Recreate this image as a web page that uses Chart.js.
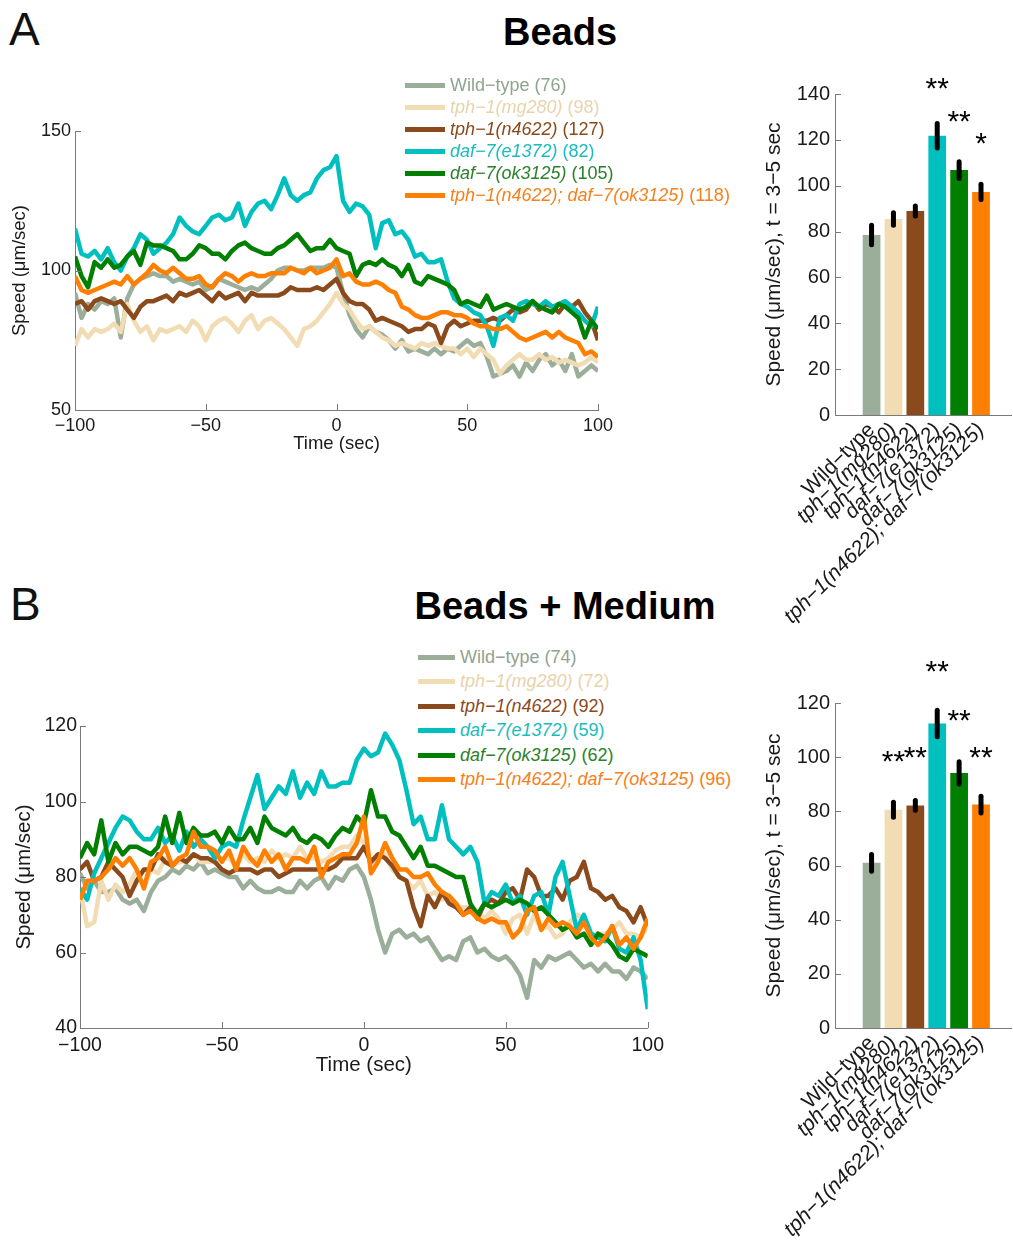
<!DOCTYPE html>
<html>
<head>
<meta charset="utf-8">
<script src="https://cdn.jsdelivr.net/npm/chart.js@4.4.0/dist/chart.umd.min.js"></script>
<style>
  body { margin: 0; background: #fff; width: 1013px; height: 1243px; position: relative; overflow: hidden;
         font-family: 'Liberation Sans', Arial, sans-serif; }
  canvas { position: absolute; }
  .panel { position: absolute; font-size: 46px; line-height: 1; color: #111; }
  .title { position: absolute; font-size: 38px; line-height: 1; font-weight: bold; color: #000;
           transform: translateX(-50%); white-space: nowrap; }
  .legend { position: absolute; font-size: 18px; white-space: nowrap; }
  .legend .row { display: flex; align-items: center; }
  .legend .sw { display: inline-block; height: 5px; margin-right: 5px; }
</style>
</head>
<body>
<div class="panel" style="left:9px;top:6px">A</div>
<div class="panel" style="left:10px;top:581px">B</div>
<div class="title" style="left:560px;top:13px">Beads</div>
<div class="title" style="left:565px;top:587px">Beads + Medium</div>

<canvas id="lineBeads" width="620" height="360" style="left:0;top:100px"></canvas>
<canvas id="lineMedium" width="670" height="390" style="left:0;top:700px"></canvas>
<canvas id="barBeads" width="258" height="560" style="left:755px;top:70px"></canvas>
<canvas id="barMedium" width="258" height="603" style="left:755px;top:640px"></canvas>

<div class="legend" id="legBeads" style="left:405px;top:74px"></div>
<div class="legend" id="legMedium" style="left:418px;top:645px;background:#fff;padding-right:4px"></div>

<script>
var FONT = "'Liberation Sans', Arial, sans-serif";
Chart.defaults.font.family = FONT;
Chart.defaults.color = '#1a1a1a';

// time axis, 2.5 s steps from -100 to 100
var times = [];
for (var t = -100; t <= 100; t += 2.5) times.push(t);

var strains = ['Wild\u2212type', 'tph\u22121(mg280)', 'tph\u22121(n4622)', 'daf\u22127(e1372)',
               'daf\u22127(ok3125)', 'tph\u22121(n4622); daf\u22127(ok3125)'];
var colors = ['#9aae9a', '#f2dcb4', '#8b4a1c', '#00bfbf', '#007f00', '#ff7f00'];
var textColors = ['#8fa38f', '#e9d3ab', '#8b4a1c', '#1bbcbc', '#2a812a', '#f5801c'];
var countsBeads = [76, 98, 127, 82, 105, 118];
var countsMedium = [74, 72, 92, 59, 62, 96];

// speed traces, beads only
var beadsWT = [92,83,88,86,89,88,90,76,90,95, 97,98,99,98,98,96,97,96,95,96,
  93,94,97,96,95,94,93,94,93,95, 97,100,101,101,100,100,101,101,101,102,
  101,92,84,79,76,80,78,77,75,72, 75,71,72,71,70,72,70,72,71,73,
  75,73,74,69,62,63,64,66,62,67, 64,68,70,66,68,64,70,62,64,66, 64];
var beadsMg280 = [73,79,76,79,78,79,81,78,88,82, 78,80,75,79,78,79,80,78,82,80,
  75,80,82,83,81,78,82,84,79,82, 83,81,79,76,73,79,80,82,85,88,
  92,88,86,82,79,80,78,76,75,73, 74,73,72,74,73,74,73,72,72,70,
  72,69,72,70,68,63,66,68,70,68, 68,70,68,69,67,68,67,66,67,69, 67];
var beadsN4622 = [88,89,86,89,90,89,88,89,86,83, 87,89,89,90,91,89,92,91,92,93,
  91,89,92,90,91,92,89,92,91,91, 91,91,92,94,93,93,93,94,93,95,
  97,92,89,88,88,86,82,83,82,81, 80,78,79,79,81,80,74,80,82,80,
  81,82,82,82,83,82,84,86,85,86, 89,86,88,87,85,88,87,89,85,82, 75];
var beadsE1372 = [115,106,105,107,104,108,103,100,105,108, 113,111,106,108,110,113,119,116,114,113,
  116,119,120,118,119,124,116,121,124,125, 122,127,133,127,125,127,128,133,136,137,
  141,125,121,124,123,120,108,117,118,113, 114,111,105,106,103,103,104,96,90,88,
  87,85,84,80,73,83,84,82,88,89, 88,87,89,87,88,89,87,85,82,80, 87];
var beadsOk3125 = [105,98,94,103,101,104,101,102,105,107, 102,110,109,109,108,107,104,104,106,109,
  108,106,106,104,107,109,110,108,107,106, 106,108,109,111,113,110,107,108,108,111,
  108,107,106,98,102,103,102,104,102,101, 98,102,96,95,98,97,96,95,93,88,
  89,88,87,91,86,87,88,87,86,87, 89,87,86,85,88,87,85,83,76,82, 79];
var beadsDouble = [98,93,92,93,94,95,96,95,98,95, 97,99,102,100,99,101,99,97,97,98,
  95,94,97,99,98,96,98,99,98,98, 99,99,99,101,100,99,101,99,100,101,
  104,98,99,96,95,95,96,95,93,92, 87,86,84,83,83,84,85,85,84,84,
  83,81,80,80,79,79,80,78,76,75, 76,77,78,76,78,76,75,74,70,71, 69];

// speed traces, beads + medium
var mediumWT = [81,77,79,76,76,77,74,73,74,71, 76,79,80,82,81,83,82,84,81,82,
  81,80,80,77,79,77,76,76,77,76, 76,79,77,79,80,77,80,79,82,83,
  80,74,66,60,65,66,64,65,63,64, 61,58,59,58,63,64,60,61,59,58,
  59,57,54,48,58,56,59,58,59,60, 58,56,57,55,57,55,55,53,56,55, 53];
var mediumMg280 = [77,67,68,79,74,78,76,78,82,77, 82,81,85,83,84,84,86,84,84,84,
  85,85,83,86,84,85,84,87,85,86, 85,88,85,85,84,85,87,88,88,91,
  89,83,85,86,82,80,79,77,79,75, 76,74,75,72,72,72,71,69,71,69,
  65,69,70,65,70,66,67,64,65,68, 70,69,65,65,65,66,68,65,65,64, 67];
var mediumN4622 = [82,84,79,80,84,82,80,75,79,82, 82,86,84,83,85,84,86,85,85,84,
  82,81,82,82,82,81,82,82,80,81, 82,82,82,82,82,82,83,85,85,85,
  88,84,86,85,83,80,79,72,67,75, 72,76,73,72,70,72,69,73,74,73,
  76,77,74,82,80,75,75,77,74,79, 80,84,77,76,74,75,72,71,68,72, 67];
var mediumE1372 = [77,74,81,85,89,93,96,95,92,90, 90,93,89,91,87,92,88,90,88,85,
  88,89,88,95,101,107,98,101,104,102, 108,101,105,102,108,104,104,105,105,111,
  114,112,113,118,115,111,103,94,96,90, 90,99,90,88,86,88,84,73,76,75,
  78,73,75,70,75,76,70,80,84,75, 66,70,65,64,63,67,61,60,64,58, 45];
var mediumOk3125 = [85,89,86,95,84,89,86,88,88,87, 86,88,96,89,97,89,93,91,91,92,
  89,93,90,90,93,89,96,93,92,91, 93,90,89,91,90,88,91,93,92,96,
  94,103,96,96,92,91,88,85,88,83, 83,82,81,80,80,73,70,73,72,73,
  74,73,74,73,71,72,70,68,66,67, 64,65,62,65,64,62,59,58,61,60, 59];
var mediumDouble = [74,79,79,80,82,85,83,85,82,77, 84,85,88,83,85,86,92,88,88,87,
  84,87,82,88,85,83,87,84,86,82, 85,85,84,88,80,84,85,86,86,89,
  96,81,84,89,85,82,82,80,80,81, 78,76,75,73,70,71,69,68,69,68,
  68,64,66,71,72,66,69,67,68,67, 65,68,64,62,64,67,62,64,61,64, 69];

// mean speed at t = 3-5 s with s.e.m.
var barBeads = [78.5, 85.5, 89, 121.8, 106.8, 97.3];
var errBeads = [4.3, 2.7, 2.2, 5.3, 3.7, 3.3];
var starsBeads = ['', '', '', '**', '**', '*'];
var starLevelBeads = [0, 0, 0, 141.7, 127.3, 117.7];

var barMedium = [61, 80.6, 82.2, 112.4, 94.2, 82.5];
var errMedium = [3.1, 2.8, 1.8, 4.9, 4.1, 3.1];
var starsMedium = ['', '**', '**', '**', '**', '**'];
var starLevelMedium = [0, 98, 99.5, 131, 113, 99.5];

function minus(v) { return String(v).replace('-', '\u2212'); }

// MATLAB style tick marks pointing into the plot
var inwardTicks = {
  id: 'inwardTicks',
  afterDatasetsDraw: function (chart, args, opts) {
    var ctx = chart.ctx, area = chart.chartArea;
    ctx.save();
    ctx.strokeStyle = '#7a7a7a';
    ctx.lineWidth = 1;
    opts.axes.forEach(function (id) {
      var s = chart.scales[id];
      s.ticks.forEach(function (tk) {
        var p = Math.round(s.getPixelForValue(tk.value)) + 0.5;
        ctx.beginPath();
        if (s.isHorizontal()) { ctx.moveTo(p, area.bottom); ctx.lineTo(p, area.bottom - opts.len); }
        else { ctx.moveTo(area.left, p); ctx.lineTo(area.left + opts.len, p); }
        ctx.stroke();
      });
    });
    ctx.restore();
  }
};

// error bars and significance stars
var barMarks = {
  id: 'barMarks',
  afterDatasetsDraw: function (chart, args, opts) {
    var ctx = chart.ctx, ys = chart.scales.y;
    var meta = chart.getDatasetMeta(0);
    ctx.save();
    ctx.strokeStyle = '#000';
    ctx.lineWidth = 5;
    ctx.lineCap = 'round';
    opts.values.forEach(function (v, i) {
      var x = meta.data[i].x;
      ctx.beginPath();
      ctx.moveTo(x, ys.getPixelForValue(v - opts.errs[i]));
      ctx.lineTo(x, ys.getPixelForValue(v + opts.errs[i]));
      ctx.stroke();
    });
    ctx.fillStyle = '#000';
    ctx.font = '30px ' + FONT;
    ctx.textAlign = 'center';
    ctx.textBaseline = 'middle';
    opts.stars.forEach(function (s, i) {
      if (s) ctx.fillText(s, meta.data[i].x, ys.getPixelForValue(opts.levels[i]));
    });
    ctx.restore();
  }
};

function lineChart(id, series, yMin, yMax, yStep, box) {
  var datasets = series.map(function (vals, i) {
    return {
      label: strains[i],
      data: times.map(function (tm, k) { return {x: tm, y: vals[k]}; }),
      borderColor: colors[i],
      borderWidth: 4.5,
      pointRadius: 0,
      tension: 0,
      borderJoinStyle: 'round',
      order: -i
    };
  });
  return new Chart(document.getElementById(id), {
    type: 'line',
    data: {datasets: datasets},
    options: {
      responsive: false,
      animation: false,
      layout: {padding: {left: 0, top: box.top, right: box.right, bottom: 0}},
      plugins: {legend: {display: false}, tooltip: {enabled: false},
                inwardTicks: {axes: ['x', 'y'], len: 6}},
      scales: {
        x: {
          type: 'linear', min: -100, max: 100,
          ticks: {stepSize: 50, font: {size: box.tick}, padding: box.xPad, callback: minus},
          grid: {display: false, drawTicks: false},
          border: {color: '#7a7a7a'},
          title: {display: true, text: 'Time (sec)', font: {size: box.label},
                  padding: {top: 0, bottom: box.xTitlePad}},
          afterFit: function (s) { s.height = box.xH; }
        },
        y: {
          min: yMin, max: yMax,
          ticks: {stepSize: yStep, font: {size: box.tick}, padding: box.yPad},
          grid: {display: false, drawTicks: false},
          border: {color: '#7a7a7a'},
          title: {display: true, text: 'Speed (\u03bcm/sec)', font: {size: box.label},
                  padding: {top: box.yTitlePad, bottom: 0}},
          afterFit: function (s) { s.width = box.yW; }
        }
      }
    },
    plugins: [inwardTicks]
  });
}

function barChart(id, values, errs, stars, levels, yMax, box) {
  return new Chart(document.getElementById(id), {
    type: 'bar',
    data: {datasets: [{
      data: values.map(function (v, i) { return {x: i + 1, y: v}; }),
      backgroundColor: colors,
      borderWidth: 0,
      barPercentage: 0.9,
      categoryPercentage: 0.9
    }]},
    options: {
      responsive: false,
      animation: false,
      layout: {padding: {left: 0, top: box.top, right: 2, bottom: 0}},
      plugins: {legend: {display: false}, tooltip: {enabled: false},
                inwardTicks: {axes: ['y'], len: 6},
                barMarks: {values: values, errs: errs, stars: stars, levels: levels}},
      scales: {
        x: {
          type: 'linear', min: 0, max: 6.7,
          afterBuildTicks: function (s) {
            s.ticks = strains.map(function (n, i) { return {value: i + 1}; });
          },
          ticks: {
            autoSkip: false, minRotation: 45, maxRotation: 45, padding: 3,
            font: function (c) { return {size: 21, style: c.index === 0 ? 'normal' : 'italic'}; },
            callback: function (v, i) { return strains[i]; }
          },
          grid: {display: false, drawTicks: false},
          border: {color: '#7a7a7a'},
          afterFit: function (s) { s.height = box.xH; }
        },
        y: {
          min: 0, max: yMax,
          ticks: {stepSize: 20, font: {size: 20}, padding: 5},
          grid: {display: false, drawTicks: false},
          border: {color: '#7a7a7a'},
          title: {display: true, text: 'Speed (\u03bcm/sec), t = 3\u22125 sec', font: {size: 21},
                  padding: {top: 7, bottom: 0}},
          afterFit: function (s) { s.width = 80; }
        }
      }
    },
    plugins: [inwardTicks, barMarks]
  });
}

function buildLegend(id, counts, rowH, swW) {
  var el = document.getElementById(id);
  strains.forEach(function (name, i) {
    var row = document.createElement('div');
    row.className = 'row';
    row.style.height = rowH + 'px';
    row.style.color = textColors[i];
    var sw = '<span class="sw" style="width:' + swW + 'px;background:' + colors[i] + '"></span>';
    var label = i === 0 ? name : '<i>' + name + '</i>';
    row.innerHTML = sw + '<span>' + label + ' (' + counts[i] + ')</span>';
    el.appendChild(row);
  });
}

lineChart('lineBeads',
  [beadsWT, beadsMg280, beadsN4622, beadsE1372, beadsOk3125, beadsDouble], 50, 150, 50,
  {top: 31, right: 22, xH: 50, yW: 75, tick: 18, label: 18.5, xPad: 5, yPad: 4, xTitlePad: 5, yTitlePad: 9});
lineChart('lineMedium',
  [mediumWT, mediumMg280, mediumN4622, mediumE1372, mediumOk3125, mediumDouble], 40, 120, 20,
  {top: 26, right: 20, xH: 62, yW: 80, tick: 19.5, label: 20.5, xPad: 6, yPad: 3, xTitlePad: 12, yTitlePad: 12});

barChart('barBeads', barBeads, errBeads, starsBeads, starLevelBeads, 140, {top: 24, xH: 215});
barChart('barMedium', barMedium, errMedium, starsMedium, starLevelMedium, 120, {top: 63, xH: 215});

buildLegend('legBeads', countsBeads, 22, 40);
buildLegend('legMedium', countsMedium, 24.5, 37);
</script>
</body>
</html>
